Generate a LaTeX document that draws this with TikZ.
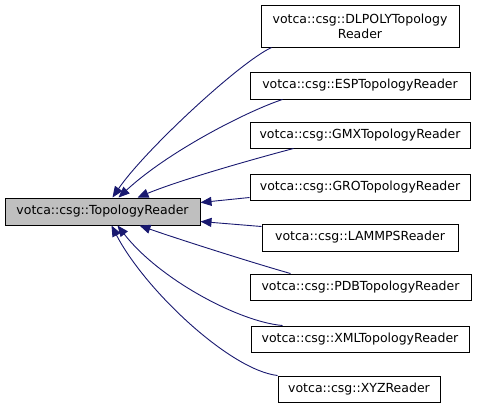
\documentclass[tikz,border=0pt]{standalone}
\usepackage{fontspec}
\setmainfont{DejaVu Sans}
\usetikzlibrary{arrows.meta,calc}
\definecolor{edgeblue}{HTML}{191970}
\definecolor{basegray}{HTML}{BFBFBF}
\tikzset{
  cls/.style={draw=black, line width=1pt, fill=white, inner sep=0pt, align=center,
    font=\fontsize{12.5}{15}\selectfont, minimum height=27pt},
  basecls/.style={cls, fill=basegray},
  inh/.style={draw=edgeblue, line width=0.9pt, -{Triangle[length=11pt,width=9pt,fill=edgeblue]}}
}
\begin{document}
\begin{tikzpicture}[x=1pt,y=-1pt]
\useasboundingbox (0,0) rectangle (477,408);
\node[basecls, minimum width=195pt] (base) at (102.5,211.5) {votca::csg::TopologyReader};
\node[cls, minimum width=198pt, minimum height=42pt] (dl) at (360,26) {votca::csg::DLPOLYTopology\\Reader};
\node[cls, minimum width=220pt] (esp) at (360,85.5) {votca::csg::ESPTopologyReader};
\node[cls, minimum width=220pt, minimum height=26pt] (gmx) at (360,135) {votca::csg::GMXTopologyReader};
\node[cls, minimum width=220pt, minimum height=26pt] (gro) at (360,187) {votca::csg::GROTopologyReader};
\node[cls, minimum width=196pt] (lam) at (360,237.5) {votca::csg::LAMMPSReader};
\node[cls, minimum width=221pt, minimum height=26pt] (pdb) at (360.5,287) {votca::csg::PDBTopologyReader};
\node[cls, minimum width=218pt, minimum height=26pt] (xml) at (360,339) {votca::csg::XMLTopologyReader};
\node[cls, minimum width=162pt, minimum height=26pt] (xyz) at (359,389) {votca::csg::XYZReader};

\draw[inh] ($(dl.south west)+(11,0)$) .. controls (240,62) and (145,150) .. ($(base.north west)+(108,0)$);
\draw[inh] ($(esp.south west)+(33,0)$) .. controls (250,110) and (170,150) .. ($(base.north west)+(114,0)$);
\draw[inh] ($(gmx.south west)+(44,0)$) .. controls (250,160) and (180,180) .. ($(base.north west)+(133,0)$);
\draw[inh] ($(gro.south west)+(0,-3)$) -- ($(base.north east)+(0,5)$);
\draw[inh] ($(lam.north west)+(0,3)$) -- ($(base.south east)+(0,-4)$);
\draw[inh] ($(pdb.north west)+(41,0)$) .. controls (250,262) and (175,238) .. ($(base.south west)+(135,0)$);
\draw[inh] ($(xml.north west)+(32,0)$) .. controls (240,322) and (160,280) .. ($(base.south west)+(113,0)$);
\draw[inh] (xyz.north west) .. controls (230,370) and (145,290) .. ($(base.south west)+(107,0)$);
\end{tikzpicture}
\end{document}
